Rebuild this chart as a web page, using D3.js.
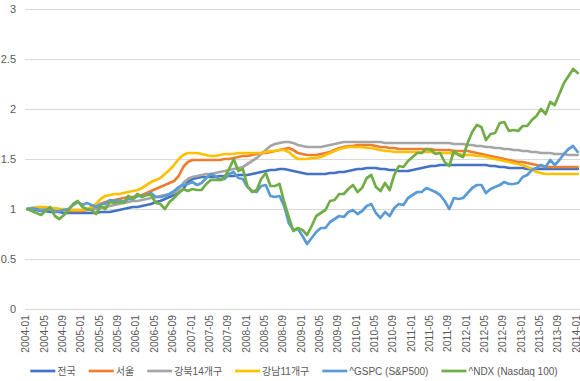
<!DOCTYPE html>
<html>
<head>
<meta charset="utf-8">
<script src="https://cdn.jsdelivr.net/npm/d3@7"></script>
<style>
  body { margin: 0; background: #fff; }
  text { font-family: "Liberation Sans", "Noto Sans CJK KR", sans-serif; fill: #595959; }
</style>
</head>
<body>
<div id="chart"></div>
<script>
// monthly categories 2004-01 .. 2014-01
var months = d3.timeMonths(new Date(2004, 0, 1), new Date(2014, 0, 2)).map(d3.timeFormat("%Y-%m"));

var seriesNames = ["전국", "서울", "강북14개구", "강남11개구", "^GSPC (S&P500)", "^NDX (Nasdaq 100)"];
var seriesColors = ["#4472c4", "#ed7d31", "#a5a5a5", "#ffc000", "#5b9bd5", "#70ad47"];

var national = [
  1.00, 0.99, 0.99, 0.98, 0.98, 0.97, 0.97, 0.97, 0.96, 0.96, 0.96, 0.96,
  0.96, 0.96, 0.96, 0.96, 0.97, 0.97, 0.97, 0.98, 0.99, 1.00, 1.01, 1.02,
  1.02, 1.03, 1.04, 1.05, 1.07, 1.08, 1.10, 1.12, 1.14, 1.16, 1.20, 1.27,
  1.30, 1.31, 1.32, 1.32, 1.32, 1.32, 1.33, 1.33, 1.33, 1.33, 1.34, 1.34,
  1.34, 1.35, 1.36, 1.37, 1.38, 1.39, 1.39, 1.40, 1.40, 1.39, 1.38, 1.37,
  1.36, 1.35, 1.35, 1.35, 1.35, 1.35, 1.36, 1.36, 1.37, 1.37, 1.38, 1.39,
  1.40, 1.40, 1.41, 1.41, 1.41, 1.40, 1.40, 1.39, 1.39, 1.38, 1.38, 1.38,
  1.39, 1.40, 1.41, 1.42, 1.43, 1.43, 1.44, 1.44, 1.44, 1.44, 1.44, 1.44,
  1.44, 1.44, 1.44, 1.44, 1.44, 1.43, 1.43, 1.42, 1.42, 1.41, 1.41, 1.41,
  1.41, 1.40, 1.40, 1.40, 1.40, 1.40, 1.40, 1.40, 1.40, 1.40, 1.40, 1.40,
  1.40
];
var seoul = [
  1.00, 1.00, 1.01, 1.01, 1.00, 1.00, 0.99, 0.99, 0.99, 0.98, 0.98, 0.98,
  0.98, 0.99, 1.00, 1.02, 1.05, 1.07, 1.08, 1.09, 1.10, 1.11, 1.12, 1.12,
  1.13, 1.14, 1.16, 1.18, 1.20, 1.22, 1.24, 1.26, 1.28, 1.33, 1.42, 1.47,
  1.49, 1.49, 1.49, 1.49, 1.49, 1.49, 1.49, 1.50, 1.50, 1.51, 1.52, 1.53,
  1.53, 1.54, 1.55, 1.56, 1.56, 1.57, 1.58, 1.59, 1.60, 1.61, 1.59, 1.56,
  1.55, 1.54, 1.54, 1.54, 1.55, 1.56, 1.57, 1.59, 1.61, 1.62, 1.63, 1.63,
  1.64, 1.64, 1.64, 1.64, 1.63, 1.62, 1.62, 1.61, 1.61, 1.60, 1.60, 1.60,
  1.60, 1.60, 1.60, 1.60, 1.60, 1.59, 1.59, 1.59, 1.59, 1.58, 1.58, 1.58,
  1.58, 1.57, 1.56, 1.55, 1.54, 1.53, 1.52, 1.51, 1.50, 1.49, 1.48, 1.47,
  1.47, 1.46, 1.45, 1.44, 1.43, 1.42, 1.42, 1.42, 1.42, 1.42, 1.42, 1.42,
  1.42
];
var gangbuk = [
  1.00, 1.00, 1.00, 1.00, 1.00, 1.00, 1.00, 1.00, 0.99, 0.99, 0.99, 0.99,
  0.99, 0.99, 0.99, 1.00, 1.01, 1.02, 1.03, 1.04, 1.05, 1.06, 1.07, 1.08,
  1.08, 1.09, 1.10, 1.11, 1.12, 1.13, 1.14, 1.15, 1.16, 1.20, 1.26, 1.30,
  1.32, 1.33, 1.34, 1.35, 1.35, 1.36, 1.37, 1.38, 1.39, 1.40, 1.41, 1.42,
  1.45, 1.48, 1.51, 1.55, 1.59, 1.63, 1.65, 1.66, 1.67, 1.67, 1.66, 1.64,
  1.63, 1.62, 1.62, 1.62, 1.62, 1.63, 1.64, 1.65, 1.66, 1.67, 1.67, 1.67,
  1.67, 1.67, 1.67, 1.67, 1.67, 1.67, 1.66, 1.66, 1.66, 1.66, 1.66, 1.66,
  1.66, 1.66, 1.66, 1.66, 1.66, 1.66, 1.66, 1.66, 1.66, 1.65, 1.65, 1.65,
  1.64, 1.64, 1.63, 1.63, 1.62, 1.62, 1.61, 1.61, 1.60, 1.60, 1.59, 1.59,
  1.58, 1.58, 1.57, 1.57, 1.56, 1.56, 1.56, 1.55, 1.55, 1.55, 1.54, 1.54,
  1.54
];
var gangnam = [
  1.00, 1.01, 1.02, 1.02, 1.02, 1.01, 1.01, 1.00, 1.00, 0.99, 0.99, 0.99,
  0.99, 1.00, 1.02, 1.05, 1.10, 1.13, 1.14, 1.15, 1.15, 1.16, 1.17, 1.18,
  1.19, 1.21, 1.24, 1.27, 1.29, 1.31, 1.35, 1.39, 1.44, 1.50, 1.54, 1.56,
  1.56, 1.56, 1.55, 1.54, 1.53, 1.53, 1.54, 1.55, 1.55, 1.55, 1.56, 1.56,
  1.56, 1.56, 1.56, 1.56, 1.57, 1.58, 1.58, 1.59, 1.59, 1.57, 1.53, 1.50,
  1.50, 1.50, 1.51, 1.51, 1.52, 1.54, 1.56, 1.58, 1.60, 1.61, 1.62, 1.62,
  1.62, 1.62, 1.61, 1.61, 1.60, 1.59, 1.58, 1.58, 1.57, 1.57, 1.57, 1.57,
  1.57, 1.57, 1.57, 1.57, 1.57, 1.56, 1.56, 1.56, 1.56, 1.55, 1.55, 1.54,
  1.54, 1.54, 1.53, 1.53, 1.52, 1.51, 1.50, 1.49, 1.48, 1.47, 1.46, 1.45,
  1.44, 1.42, 1.40, 1.37, 1.36, 1.35, 1.35, 1.35, 1.35, 1.35, 1.35, 1.35,
  1.35
];
var gspc = [
  1.00, 1.01, 1.00, 0.98, 0.99, 1.01, 0.97, 0.98, 0.99, 1.00, 1.04, 1.07,
  1.04, 1.06, 1.04, 1.02, 1.05, 1.05, 1.09, 1.08, 1.09, 1.07, 1.10, 1.10,
  1.13, 1.13, 1.14, 1.16, 1.12, 1.12, 1.13, 1.15, 1.18, 1.22, 1.24, 1.25,
  1.27, 1.24, 1.26, 1.31, 1.35, 1.33, 1.29, 1.30, 1.35, 1.37, 1.31, 1.30,
  1.22, 1.18, 1.17, 1.23, 1.24, 1.13, 1.12, 1.13, 1.03, 0.86, 0.79, 0.80,
  0.73, 0.65, 0.71, 0.77, 0.81, 0.81, 0.87, 0.90, 0.93, 0.92, 0.97, 0.99,
  0.95, 0.98, 1.03, 1.05, 0.96, 0.91, 0.97, 0.93, 1.01, 1.05, 1.04, 1.11,
  1.14, 1.17, 1.17, 1.21, 1.19, 1.17, 1.14, 1.08, 1.00, 1.11, 1.10, 1.11,
  1.16, 1.21, 1.24, 1.24, 1.16, 1.20, 1.22, 1.24, 1.27, 1.25, 1.25, 1.26,
  1.32, 1.34, 1.39, 1.41, 1.44, 1.42, 1.49, 1.44, 1.49, 1.55, 1.60, 1.63,
  1.57
];
var ndx = [
  1.00, 0.98, 0.96, 0.94, 0.98, 1.02, 0.93, 0.90, 0.94, 0.99, 1.05, 1.08,
  1.02, 1.00, 0.99, 0.95, 1.03, 1.00, 1.07, 1.06, 1.07, 1.06, 1.13, 1.10,
  1.15, 1.12, 1.14, 1.14, 1.06, 1.05, 1.00, 1.07, 1.11, 1.16, 1.20, 1.18,
  1.20, 1.19, 1.19, 1.25, 1.29, 1.29, 1.29, 1.32, 1.40, 1.50, 1.38, 1.40,
  1.23, 1.17, 1.19, 1.30, 1.36, 1.23, 1.23, 1.25, 1.07, 0.92, 0.78, 0.81,
  0.79, 0.74, 0.83, 0.93, 0.96, 0.99, 1.08, 1.09, 1.15, 1.15, 1.20, 1.24,
  1.17, 1.21, 1.31, 1.34, 1.22, 1.18, 1.26, 1.19, 1.34, 1.43, 1.42, 1.48,
  1.52, 1.56, 1.56, 1.60, 1.59, 1.55, 1.56, 1.47, 1.43, 1.58, 1.54, 1.52,
  1.66, 1.77, 1.84, 1.82, 1.69, 1.75, 1.76, 1.86, 1.87, 1.78, 1.79, 1.78,
  1.83, 1.83, 1.89, 1.93, 2.00, 1.95, 2.07, 2.04, 2.15, 2.26, 2.33, 2.40,
  2.36
];

var yTicks = [0, 0.5, 1, 1.5, 2, 2.5, 3];

var allSeries = [national, seoul, gangbuk, gangnam, gspc, ndx];

var width = 580, height = 381;
var svg = d3.select("#chart").append("svg")
    .attr("width", width).attr("height", height);

var x = d3.scalePoint().domain(months).range([25, 580]).padding(0.5);
var y = d3.scaleLinear().domain([0, 3]).range([309, 9]);

// gridlines
svg.append("g").selectAll("line").data(yTicks).enter().append("line")
    .attr("x1", 25).attr("x2", 580)
    .attr("y1", function(d) { return y(d) + 0.5; })
    .attr("y2", function(d) { return y(d) + 0.5; })
    .attr("stroke", "#d9d9d9").attr("stroke-width", 1);

// y labels
svg.append("g").selectAll("text").data(yTicks).enter().append("text")
    .attr("x", 16).attr("y", function(d) { return y(d); })
    .attr("dy", "0.35em")
    .attr("text-anchor", "end")
    .style("font-size", "11px")
    .text(function(d) { return d; });

// x labels, every 4 months
var xTickLabels = months.filter(function(d, i) { return i % 4 === 0; });
svg.append("g").selectAll("text").data(xTickLabels).enter().append("text")
    .attr("transform", function(d) { return "translate(" + (x(d) - 1.5) + ",315) rotate(-90)"; })
    .attr("dy", "0.35em")
    .attr("text-anchor", "end")
    .style("font-size", "10.3px")
    .text(function(d) { return d; });

// lines
var line = d3.line()
    .x(function(d, i) { return x(months[i]); })
    .y(function(d) { return y(d); });

svg.append("g").selectAll("path").data(allSeries).enter().append("path")
    .attr("d", line)
    .attr("fill", "none")
    .attr("stroke", function(d, i) { return seriesColors[i]; })
    .attr("stroke-width", 2.7)
    .attr("stroke-linejoin", "round")
    .attr("stroke-linecap", "round");

// legend
var legend = svg.append("g");
var items = legend.selectAll("g").data(seriesNames).enter().append("g");
items.append("line")
    .attr("x1", 0).attr("x2", 25).attr("y1", 0).attr("y2", 0)
    .attr("stroke", function(d, i) { return seriesColors[i]; })
    .attr("stroke-width", 2.7);
items.append("text")
    .attr("x", 27).attr("dy", "0.35em")
    .style("font-size", "10px")
    .text(function(d) { return d; });

var gap = 13;
var pos = 0;
var starts = [];
items.each(function(d, i) {
  starts.push(pos);
  pos += 27 + d3.select(this).select("text").node().getComputedTextLength() + gap;
});
var total = pos - gap;
var left = 294 - total / 2;
items.attr("transform", function(d, i) { return "translate(" + (left + starts[i]) + ",371)"; });
</script>
</body>
</html>
